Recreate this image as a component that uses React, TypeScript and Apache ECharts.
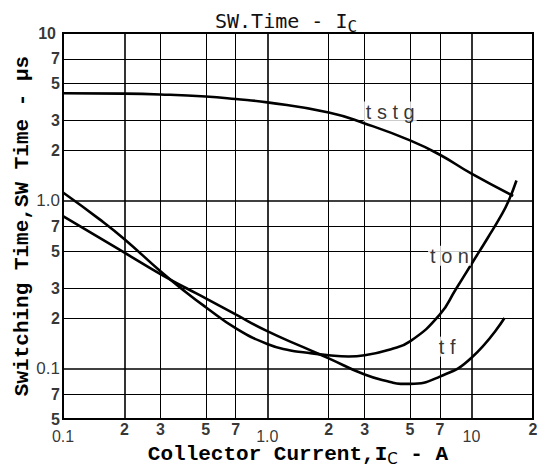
import React, { useEffect, useRef } from "react";
import * as echarts from "echarts";

// Axis ticks (log-log chart)
const xTicks = [0.1, 0.2, 0.3, 0.5, 0.7, 1, 2, 3, 5, 7, 10, 20];
const xTickLabels = ["0.1", "2", "3", "5", "7", "1.0", "2", "3", "5", "7", "10", "2"];
const xMajor = [0.1, 1, 10];
const yTicks = [0.05, 0.07, 0.1, 0.2, 0.3, 0.5, 0.7, 1, 2, 3, 5, 7, 10];
const yTickLabels = ["5", "7", "0.1", "2", "3", "5", "7", "1.0", "2", "3", "5", "7", "10"];
const yMajor = [0.1, 1];

// Curves: [Ic (A), time (µs)]
const tstg = [
  [0.1, 4.37], [0.2, 4.35], [0.3, 4.3], [0.5, 4.18], [0.7, 4.04], [1, 3.86],
  [2, 3.36], [3, 2.89], [5, 2.29], [7, 1.88], [10, 1.45], [16, 1.07],
];
const ton = [
  [0.1, 1.12], [0.15, 0.78], [0.2, 0.59], [0.3, 0.38], [0.4, 0.285], [0.5, 0.232],
  [0.7, 0.174], [1, 0.14], [1.3, 0.128], [1.5, 0.125], [2, 0.12], [2.5, 0.118], [3, 0.12],
  [4, 0.13], [5, 0.145], [7, 0.21], [8.35, 0.295], [10, 0.42], [12, 0.6],
  [14, 0.82], [15.2, 1.0], [16.6, 1.32],
];
const tf = [
  [0.1, 0.81], [0.2, 0.49], [0.3, 0.365], [0.4, 0.302], [0.5, 0.262], [0.7, 0.21],
  [1, 0.167], [1.5, 0.134], [2, 0.115], [3, 0.092], [4, 0.083], [4.5, 0.081],
  [5, 0.081], [7, 0.0895], [10, 0.116], [14.5, 0.2],
];

// Curve annotations: [Ic, time, text]
const curveLabels: [number, number, string][] = [
  [4.0, 3.4, "t s t g"],
  [7.8, 0.47, "t o n"],
  [7.6, 0.135, "t f"],
];

export default function App() {
  const ref = useRef<HTMLDivElement>(null);
  useEffect(() => {
    if (!ref.current) return;
    const chart = echarts.init(ref.current, undefined, { renderer: "svg" });
    const curveStyle = { color: "#000", width: 2.6 };
    const mono = "Liberation Mono";
    const sans = "Liberation Sans";
    const curve = (name: string, data: number[][]) => ({
      name,
      type: "line",
      data,
      smooth: 0.5,
      showSymbol: false,
      lineStyle: curveStyle,
      z: 3,
    });
    chart.setOption({
      animation: false,
      backgroundColor: "#fff",
      title: {
        text: "{a|SW.Time - I}{b|C}",
        left: 210,
        top: 3,
        textStyle: {
          fontWeight: "normal",
          rich: {
            a: { fontFamily: "DejaVu Sans Mono", fontWeight: "normal", fontSize: 20, color: "#111" },
            b: { fontFamily: "DejaVu Sans Mono", fontWeight: "normal", fontSize: 16, color: "#111", padding: [10, 0, 0, 0] },
          },
        },
      },
      grid: {
        left: 63, right: 6, top: 33, bottom: 56,
        show: true, borderColor: "#000", borderWidth: 2, backgroundColor: "transparent",
      },
      xAxis: {
        type: "log", logBase: 10, min: 0.1, max: 20,
        axisLine: { show: false }, axisTick: { show: false }, axisLabel: { show: false },
        splitLine: { show: false },
        name: "{a|Collector Current,I}{b|C}{a| - A}",
        nameLocation: "middle",
        nameGap: 24,
        nameTextStyle: {
          rich: {
            a: { fontFamily: mono, fontWeight: "bold", fontSize: 21, color: "#000" },
            b: { fontFamily: "DejaVu Sans", fontSize: 15, color: "#000", padding: [8, 0, 0, 0] },
          },
        },
      },
      yAxis: {
        type: "log", logBase: 10, min: 0.05, max: 10,
        axisLine: { show: false }, axisTick: { show: false }, axisLabel: { show: false },
        splitLine: { show: false },
        name: "Switching Time,SW Time - µs",
        nameLocation: "middle",
        nameGap: 30,
        nameTextStyle: { fontFamily: mono, fontWeight: "bold", fontSize: 21, color: "#000" },
      },
      series: [
        {
          type: "line",
          data: [],
          silent: true,
          z: 1,
          markLine: {
            silent: true,
            symbol: ["none", "none"],
            label: { show: false },
            lineStyle: { color: "#000", width: 1, type: "solid" },
            data: [
              ...xTicks.slice(1, -1).map((v) => ({
                xAxis: v,
                lineStyle: { color: "#000", width: xMajor.includes(v) || v === 0.2 ? 1.6 : 1, type: "solid" },
              })),
              ...yTicks.slice(1, -1).map((v) => ({
                yAxis: v,
                lineStyle: { color: "#000", width: yMajor.includes(v) ? 1.6 : 1, type: "solid" },
              })),
            ],
          },
        },
        curve("tstg", tstg),
        curve("ton", ton),
        curve("tf", tf),
        {
          type: "scatter",
          symbolSize: 0,
          clip: false,
          silent: true,
          z: 4,
          data: xTicks.map((v, i) => {
            const major = xMajor.includes(v);
            return {
              value: [v, 0.05],
              label: {
                show: true,
                position: "bottom",
                distance: major ? 9 : 2,
                formatter: xTickLabels[i],
                fontFamily: sans,
                fontWeight: major ? "normal" : "bold",
                fontSize: 16,
                color: "#000",
              },
            };
          }),
        },
        {
          type: "scatter",
          symbolSize: 0,
          clip: false,
          silent: true,
          z: 4,
          data: yTicks.map((v, i) => {
            const major = yMajor.includes(v);
            return {
              value: [0.1, v],
              label: {
                show: true,
                position: "left",
                distance: v === 10 ? 7 : 3,
                formatter: yTickLabels[i],
                fontFamily: sans,
                fontWeight: major ? "normal" : "bold",
                fontSize: major ? 17 : 16,
                color: "#000",
              },
            };
          }),
        },
        {
          type: "scatter",
          symbolSize: 0,
          clip: false,
          silent: true,
          z: 5,
          data: curveLabels.map((d) => ({
            value: [d[0], d[1]],
            label: {
              show: true,
              position: "inside",
              formatter: d[2],
              fontFamily: sans,
              fontSize: 20,
              color: "#000",
              backgroundColor: "#fff",
              padding: [0, 2],
            },
          })),
        },
      ],
    });
    return () => chart.dispose();
  }, []);
  return (
    <div
      ref={ref}
      style={{ position: "fixed", left: 0, top: 0, width: 539, height: 475, background: "#fff" }}
    />
  );
}
